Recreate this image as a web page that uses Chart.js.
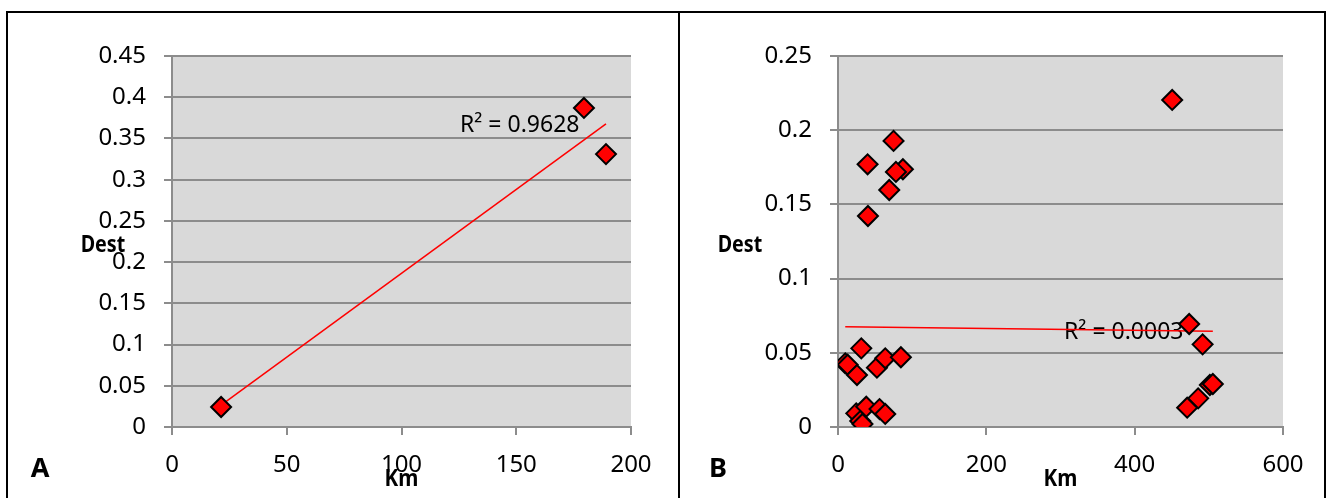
<!DOCTYPE html>
<html>
<head>
<meta charset="utf-8">
<script src="https://cdn.jsdelivr.net/npm/chart.js@4.4.1/dist/chart.umd.min.js"></script>
<style>
    body { margin: 0; background: #fff; }
    #wrap { position: relative; width: 1328px; height: 498px; overflow: hidden; }
    canvas { position: absolute; top: 0; }
    #chart-a { left: 0; }
    #chart-b { left: 678px; }
    .frame { position: absolute; top: 11px; height: 500px; border: 2px solid #000; box-sizing: border-box; }
</style>
</head>
<body>
<div id="wrap">
    <canvas id="chart-a" width="678" height="498"></canvas>
    <canvas id="chart-b" width="650" height="498"></canvas>
    <div class="frame" style="left:6px; width:674px;"></div>
    <div class="frame" style="left:678px; width:648px;"></div>
</div>
<script>
// 图A：距离与差异
const kmA = [21.4, 179.5, 189.1];
const destA = [0.0243, 0.387, 0.331];
const xTicksA = [0, 50, 100, 150, 200];
const yTicksA = [0, 0.05, 0.1, 0.15, 0.2, 0.25, 0.3, 0.35, 0.4, 0.45];
const trendKmA = [21.4, 189.1];
const trendDestA = [0.0265, 0.3676];
const r2LabelA = 'R² = 0.9628';

// 图B
const kmB = [74.9, 39.9, 87.5, 78.1, 69.1, 40.4,
    31.4, 9.8, 13, 25.6, 52.5, 63.7, 84.8,
    24.6, 38.1, 56, 63.7, 30, 33,
    473.5, 491.6, 501.4, 505.4, 485.6, 470.8,
    450.6];
const destB = [0.1928, 0.177, 0.1737, 0.1719, 0.1597, 0.1422,
    0.053, 0.0429, 0.042, 0.035, 0.040, 0.0463, 0.047,
    0.0092, 0.0137, 0.0121, 0.0088, 0.004, 0.002,
    0.0694, 0.0557, 0.0283, 0.029, 0.0193, 0.013,
    0.2204];
const xTicksB = [0, 200, 400, 600];
const yTicksB = [0, 0.05, 0.1, 0.15, 0.2, 0.25];
const trendKmB = [9.8, 505.4];
const trendDestB = [0.0675, 0.0646];
const r2LabelB = 'R² = 0.0003';

const FONT = '"Noto Sans", "Open Sans", sans-serif';
const GRID = '#8c8c8c';

function fmt(v) {
    return String(Math.round(v * 100) / 100);
}

// 窄一点的粗体标题
function narrowText(ctx, text, x, y, squeeze) {
    ctx.save();
    ctx.translate(x, y);
    ctx.scale(squeeze, 1);
    ctx.fillText(text, 0, 0);
    ctx.restore();
}

// 灰色绘图区 + 文字标注
const decorPlugin = {
    id: 'decor',
    beforeDraw(chart) {
        const a = chart.chartArea;
        const ctx = chart.ctx;
        ctx.save();
        ctx.fillStyle = '#d9d9d9';
        ctx.fillRect(a.left, a.top, a.right - a.left, a.bottom - a.top);
        ctx.restore();
    },
    beforeDatasetsDraw(chart) {
        const o = chart.options.plugins.decor;
        const ctx = chart.ctx;
        const xs = chart.scales.x, ys = chart.scales.y;
        ctx.save();
        ctx.fillStyle = '#000';
        ctx.textBaseline = 'middle';
        ctx.textAlign = 'left';
        ctx.font = '23px ' + FONT;
        ctx.fillText(o.r2, xs.getPixelForValue(o.r2At[0]), ys.getPixelForValue(o.r2At[1]));
        ctx.restore();
    },
    afterDraw(chart) {
        const o = chart.options.plugins.decor;
        const ctx = chart.ctx;
        const a = chart.chartArea;
        ctx.save();
        ctx.fillStyle = '#000';
        ctx.textBaseline = 'middle';
        ctx.textAlign = 'center';
        ctx.font = 'bold 24px ' + FONT;
        narrowText(ctx, 'Dest', o.destX, 245, 0.82);
        narrowText(ctx, 'Km', (a.left + a.right) / 2, 479, 0.86);
        ctx.font = 'bold 27px ' + FONT;
        ctx.fillText(o.letter, o.letterX, 469);
        ctx.restore();
    }
};

function makeChart(id, xs, ys, tx, ty, xTicks, yTicks, yWidth, padRight, decor) {
    const points = xs.map((x, i) => ({ x: x, y: ys[i] }));
    const trend = tx.map((x, i) => ({ x: x, y: ty[i] }));
    return new Chart(document.getElementById(id), {
        type: 'scatter',
        data: {
            datasets: [{
                data: points,
                pointStyle: 'rectRot',
                pointRadius: 10,
                pointHoverRadius: 10,
                backgroundColor: '#ff0000',
                borderColor: '#000',
                borderWidth: 2
            }, {
                type: 'line',
                data: trend,
                borderColor: '#ff0000',
                borderWidth: 1.5,
                pointRadius: 0,
                fill: false
            }]
        },
        options: {
            responsive: false,
            animation: false,
            layout: { padding: { left: 0, right: padRight, top: 56, bottom: 0 } },
            plugins: {
                legend: { display: false },
                tooltip: { enabled: false },
                decor: decor
            },
            scales: {
                x: {
                    type: 'linear',
                    min: xTicks[0],
                    max: xTicks[xTicks.length - 1],
                    afterBuildTicks: s => { s.ticks = xTicks.map(v => ({ value: v })); },
                    afterFit: s => { s.height = 71; },
                    ticks: { color: '#000', font: { family: FONT, size: 24 }, padding: 16, maxRotation: 0 },
                    grid: { drawOnChartArea: false, drawTicks: true, tickLength: 8, color: GRID, lineWidth: 2 },
                    border: { display: true, color: GRID, width: 2 }
                },
                y: {
                    min: yTicks[0],
                    max: yTicks[yTicks.length - 1],
                    afterBuildTicks: s => { s.ticks = yTicks.map(v => ({ value: v })); },
                    afterFit: s => { s.width = yWidth; },
                    ticks: { color: '#000', font: { family: FONT, size: 24 }, padding: 18, callback: v => fmt(v) },
                    grid: { tickLength: 8, color: GRID, lineWidth: 2 },
                    border: { display: true, color: GRID, width: 2 }
                }
            }
        },
        plugins: [decorPlugin]
    });
}

const chartA = makeChart('chart-a', kmA, destA, trendKmA, trendDestA, xTicksA, yTicksA, 172, 47,
    { r2: r2LabelA, r2At: [125.5, 0.3663], destX: 103, letter: 'A', letterX: 40 });

const chartB = makeChart('chart-b', kmB, destB, trendKmB, trendDestB, xTicksB, yTicksB, 160, 45,
    { r2: r2LabelB, r2At: [304.8, 0.0635], destX: 62, letter: 'B', letterX: 40 });
</script>
</body>
</html>
